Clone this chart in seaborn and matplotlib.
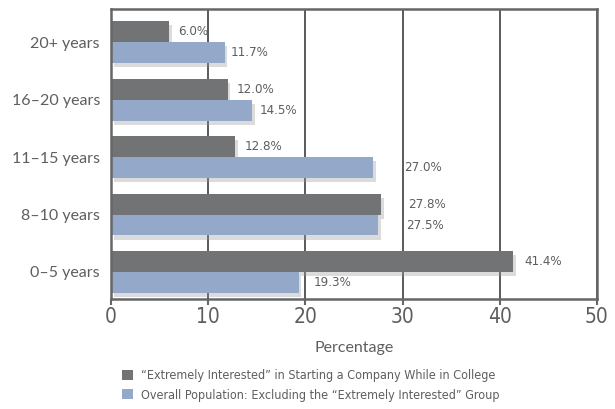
import matplotlib
matplotlib.use('Agg')
import matplotlib.pyplot as plt
import matplotlib.patheffects as pe
from matplotlib import font_manager as fm
from matplotlib.patches import Patch
import pandas as pd
import seaborn as sns

categories = ['20+ years', '16–20 years', '11–15 years', '8–10 years', '0–5 years']
extreme = [6.0, 12.0, 12.8, 27.8, 41.4]
overall = [11.7, 14.5, 27.0, 27.5, 19.3]
series_names = ['\u201cExtremely Interested\u201d in Starting a Company While in College',
                'Overall Population: Excluding the \u201cExtremely Interested\u201d Group']
x_ticks = [0, 10, 20, 30, 40, 50]

# label offsets from bar end (data units)
pad_extreme = [0.9, 0.9, 1.0, 2.8, 1.1]
pad_overall = [0.6, 0.8, 3.2, 2.9, 1.6]

df = pd.DataFrame({
    'group': categories * 2,
    'value': extreme + overall,
    'series': [series_names[0]] * 5 + [series_names[1]] * 5,
})

dark = '#727374'
blue = '#94a8c9'
grey_txt = '#5e5e5e'
humanist = ['Lato', 'DejaVu Sans']


def condensed_font():
    # pick a narrow/condensed regular face if one is installed
    cands = []
    for f in fm.fontManager.ttflist:
        fn = f.fname.lower().split('/')[-1]
        tag = (f.name + ' ' + fn + ' ' + str(f.stretch)).lower()
        if f.style != 'normal':
            continue
        if any(w in fn for w in ('bold', 'italic', 'oblique', 'light', 'thin', 'medium', 'black', 'semibold')):
            continue
        if 'narrow' in tag or 'condensed' in tag:
            flat = tag.replace('-', '').replace(' ', '')
            if 'extracondensed' in flat:
                rank = 1
            elif 'semicondensed' in flat:
                rank = 2
            else:
                rank = 0
            cands.append((rank, f.fname))
    if cands:
        return sorted(cands)[0][1]
    return None


cpath = condensed_font()


def nfont(size):
    if cpath:
        return fm.FontProperties(fname=cpath, size=size)
    return fm.FontProperties(family='DejaVu Sans', stretch='condensed', size=size)


sns.set_style('white')
fig = plt.figure(figsize=(6.15, 4.09), dpi=100)
ax = fig.add_axes([0.1805, 0.269, 0.79, 0.708])

sns.barplot(data=df, x='value', y='group', hue='series', orient='h',
            palette=[dark, blue], width=0.73, saturation=1, gap=0,
            legend=False, ax=ax)

for p in ax.patches:
    p.set_linewidth(0)
    p.set_path_effects([pe.SimplePatchShadow(offset=(2, -3), shadow_rgbFace='#999999', alpha=0.35),
                        pe.Normal()])

# value labels
for cont, vals, pads in zip(ax.containers, [extreme, overall], [pad_extreme, pad_overall]):
    for bar, v, pd_ in zip(cont, vals, pads):
        yc = bar.get_y() + bar.get_height() / 2
        ax.text(v + pd_, yc, f'{v:.1f}%', va='center', ha='left',
                fontproperties=nfont(9.5), color=grey_txt)

ax.set_xlim(0, 50)
ax.set_ylim(4.47, -0.57)
ax.set_xticks(x_ticks)
ax.set_xticklabels([str(t) for t in x_ticks], color=grey_txt, fontproperties=nfont(15))
ax.tick_params(axis='x', length=4, width=1.5, color='#666666', pad=2, direction='out', bottom=True)
ax.tick_params(axis='y', length=0, pad=8)
for lab in ax.get_yticklabels():
    lab.set_family(humanist)
    lab.set_fontsize(11.5)
    lab.set_color(grey_txt)

ax.grid(axis='x', color='#5a5a5a', linewidth=1.4)
ax.grid(axis='y', visible=False)
ax.set_axisbelow(True)
for s in ax.spines.values():
    s.set_visible(True)
    s.set_color('#666666')
    s.set_linewidth(1.8)

ax.set_ylabel('')
ax.set_xlabel('Percentage', fontsize=11.5, color=grey_txt, family=humanist, labelpad=10)

handles = [Patch(facecolor=dark, edgecolor='none'), Patch(facecolor=blue, edgecolor='none')]
fig.legend(handles, series_names, loc='upper left', bbox_to_anchor=(0.198, 0.097),
           frameon=False, handlelength=0.9, handleheight=0.9, handletextpad=0.6,
           labelspacing=0.5, borderaxespad=0, borderpad=0,
           prop=nfont(9), labelcolor=grey_txt)

fig.savefig('out.png', dpi=100)
